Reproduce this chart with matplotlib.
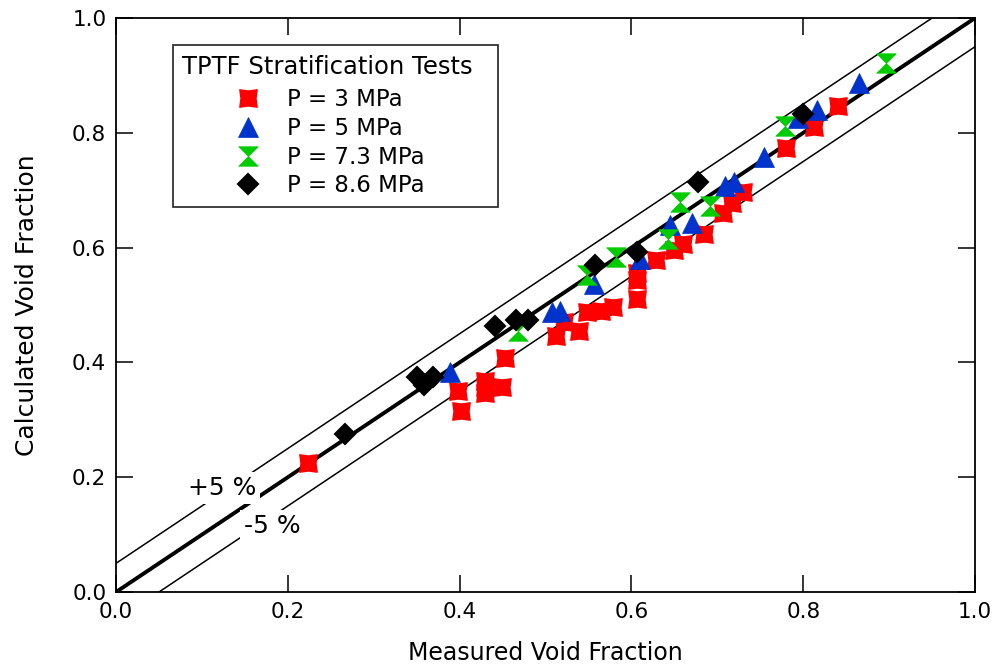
import numpy as np
import matplotlib.pyplot as plt
from matplotlib.path import Path

# P = 3 MPa
x3 = [0.2235, 0.398, 0.402, 0.430, 0.430, 0.430, 0.449, 0.453, 0.512, 0.521,
      0.539, 0.548, 0.565, 0.579, 0.606, 0.606, 0.607, 0.629, 0.650, 0.660,
      0.684, 0.707, 0.717, 0.730, 0.780, 0.812, 0.841]
y3 = [0.225, 0.351, 0.315, 0.368, 0.357, 0.346, 0.358, 0.407, 0.446, 0.471,
      0.455, 0.488, 0.490, 0.497, 0.510, 0.543, 0.556, 0.578, 0.596, 0.606,
      0.624, 0.660, 0.678, 0.696, 0.773, 0.810, 0.846]

# P = 5 MPa
x5 = [0.389, 0.507, 0.517, 0.556, 0.610, 0.645, 0.670, 0.709, 0.719, 0.754,
      0.794, 0.816, 0.865]
y5 = [0.384, 0.488, 0.489, 0.536, 0.580, 0.640, 0.642, 0.707, 0.715, 0.757,
      0.826, 0.839, 0.886]

# P = 7.3 MPa
x73 = [0.468, 0.548, 0.582, 0.642, 0.657, 0.691, 0.779, 0.896]
y73 = [0.455, 0.552, 0.584, 0.615, 0.680, 0.672, 0.811, 0.922]

# P = 8.6 MPa
x86 = [0.267, 0.350, 0.358, 0.369, 0.441, 0.466, 0.480, 0.558, 0.606, 0.677, 0.800]
y86 = [0.276, 0.375, 0.361, 0.375, 0.464, 0.474, 0.474, 0.570, 0.593, 0.714, 0.833]

plt.rcParams['font.family'] = ['DejaVu Sans']

fig = plt.figure(figsize=(9.97, 6.71), dpi=100)
ax = fig.add_axes([0.1164, 0.1177, 0.8616, 0.8555])

line = np.array([0.0, 1.0])
ax.plot(line, line, color='black', lw=2.8, zorder=1)
ax.plot(line, line + 0.05, color='black', lw=1.1, zorder=1)
ax.plot(line, line - 0.05, color='black', lw=1.1, zorder=1)

# notched square for the 3 MPa points, hourglass for 7.3 MPa
notched = Path([(-1, 1), (0, 0.86), (1, 1), (0.86, 0), (1, -1), (0, -0.86),
                (-1, -1), (-0.86, 0), (-1, 1)],
               [1, 2, 2, 2, 2, 2, 2, 2, 79])
hourglass = Path([(-1, 1), (1, 1), (0, 0), (1, -1), (-1, -1), (0, 0), (-1, 1)],
                 [1, 2, 2, 2, 2, 2, 79])

ax.plot(x3, y3, ls='none', marker=notched, ms=12.5, color='#ff0000', mec='#ff0000',
        mew=1.0, label='P = 3 MPa', zorder=3)
ax.plot(x5, y5, ls='none', marker='^', ms=14, color='#0033cc', mec='#0033cc',
        mew=0.5, label='P = 5 MPa', zorder=3)
ax.plot(x73, y73, ls='none', marker=hourglass, ms=14, color='#00cc00', mec='#00cc00',
        mew=0.5, label='P = 7.3 MPa', zorder=3)
ax.plot(x86, y86, ls='none', marker='D', ms=10, color='black', mec='black',
        mew=1.5, mfc='black', label='P = 8.6 MPa', zorder=3)

ax.text(0.123, 0.181, '+5 %', fontsize=18, ha='center', va='center',
        bbox=dict(facecolor='white', edgecolor='none', pad=3), zorder=2)
ax.text(0.182, 0.115, '-5 %', fontsize=18, ha='center', va='center',
        bbox=dict(facecolor='white', edgecolor='none', pad=3), zorder=2)

ax.set_xlim(0, 1)
ax.set_ylim(0, 1)
ax.set_xticks([0.0, 0.2, 0.4, 0.6, 0.8, 1.0])
ax.set_yticks([0.0, 0.2, 0.4, 0.6, 0.8, 1.0])
ax.set_xticklabels(['0.0', '0.2', '0.4', '0.6', '0.8', '1.0'])
ax.set_yticklabels(['0.0', '0.2', '0.4', '0.6', '0.8', '1.0'])
ax.tick_params(direction='in', length=12, width=1.1, labelsize=15.5,
               top=True, right=True, pad=7)
for s in ax.spines.values():
    s.set_linewidth(1.3)

ax.set_xlabel('Measured Void Fraction', fontsize=17, labelpad=14)
ax.set_ylabel('Calculated Void Fraction', fontsize=18, labelpad=24)

leg = ax.legend(title='TPTF Stratification Tests  ', loc='upper left',
                bbox_to_anchor=(0.066, 0.953), borderaxespad=0.0,
                fontsize=16.5, title_fontsize=17.5,
                frameon=True, fancybox=False, edgecolor='black',
                handletextpad=1.6, labelspacing=0.25, borderpad=0.42,
                handlelength=0.2, markerscale=1.0)
leg.get_frame().set_linewidth(1.3)
leg._legend_box.sep = 7

fig.savefig('out.png', dpi=100)
